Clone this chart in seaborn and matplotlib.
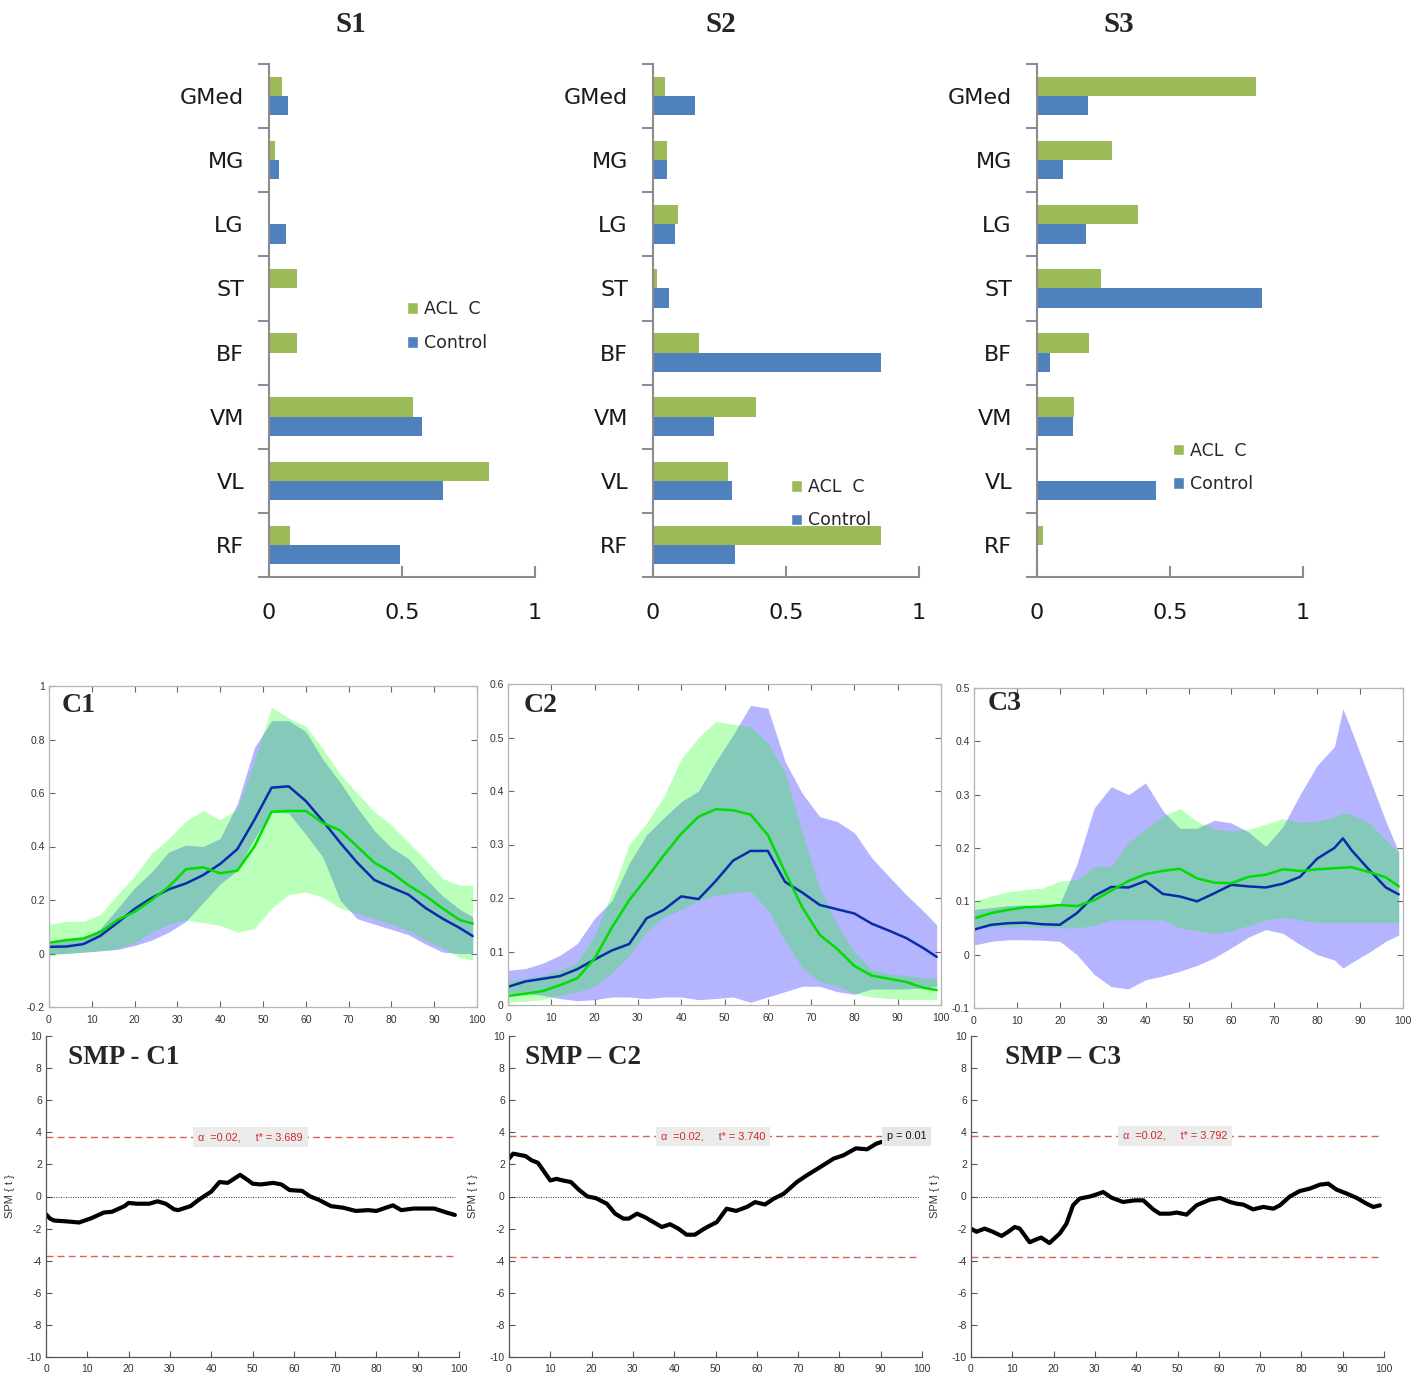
import matplotlib
matplotlib.use("Agg")
import matplotlib.pyplot as plt
from matplotlib.patches import Patch
import numpy as np
import pandas as pd
import seaborn as sns

# ---------------- data ----------------
muscles = ['GMed', 'MG', 'LG', 'ST', 'BF', 'VM', 'VL', 'RF']
groups = ['ACL  C', 'Control']

s1_acl = [0.047, 0.023, 0.0, 0.104, 0.104, 0.543, 0.826, 0.079]
s1_ctrl = [0.070, 0.039, 0.065, 0.0, 0.0, 0.575, 0.653, 0.493]
s2_acl = [0.044, 0.052, 0.094, 0.014, 0.172, 0.387, 0.283, 0.859]
s2_ctrl = [0.157, 0.052, 0.082, 0.060, 0.859, 0.230, 0.296, 0.307]
s3_acl = [0.822, 0.283, 0.378, 0.242, 0.196, 0.139, 0.005, 0.023]
s3_ctrl = [0.191, 0.097, 0.184, 0.844, 0.047, 0.136, 0.448, 0.0]

# gait-cycle nodes (%)
t = [0, 4, 8, 12, 16, 20, 24, 28, 32, 36, 40, 44, 48, 52, 56, 60, 64, 68, 72, 76, 80, 84, 88, 92, 96, 99]
t3 = [0, 4, 8, 12, 16, 20, 24, 28, 32, 36, 40, 44, 48, 52, 56, 60, 64, 68, 72, 76, 80, 84, 86, 88, 92, 96, 99]

c1_blue_mean = [0.025, 0.026, 0.035, 0.066, 0.115, 0.167, 0.208, 0.24, 0.262, 0.293, 0.335, 0.39, 0.5, 0.62, 0.625, 0.57, 0.495, 0.415, 0.34, 0.275, 0.247, 0.22, 0.17, 0.13, 0.095, 0.065]
c1_blue_hi = [0.044, 0.05, 0.058, 0.093, 0.168, 0.245, 0.305, 0.38, 0.405, 0.40, 0.43, 0.56, 0.77, 0.87, 0.87, 0.83, 0.725, 0.64, 0.545, 0.46, 0.395, 0.355, 0.28, 0.215, 0.165, 0.137]
c1_blue_lo = [0.0, 0.0, 0.005, 0.01, 0.015, 0.03, 0.05, 0.08, 0.12, 0.19, 0.26, 0.31, 0.43, 0.53, 0.525, 0.445, 0.36, 0.2, 0.13, 0.11, 0.09, 0.07, 0.035, 0.005, 0.0, 0.0]
c1_green_mean = [0.04, 0.05, 0.056, 0.08, 0.125, 0.156, 0.2, 0.25, 0.315, 0.322, 0.3, 0.31, 0.4, 0.53, 0.533, 0.533, 0.488, 0.46, 0.4, 0.34, 0.303, 0.255, 0.215, 0.168, 0.125, 0.112]
c1_green_hi = [0.11, 0.12, 0.12, 0.145, 0.22, 0.29, 0.375, 0.43, 0.495, 0.535, 0.5, 0.54, 0.72, 0.92, 0.88, 0.85, 0.765, 0.67, 0.6, 0.53, 0.48, 0.415, 0.35, 0.28, 0.255, 0.255]
c1_green_lo = [-0.01, 0.0, 0.005, 0.01, 0.02, 0.04, 0.08, 0.11, 0.125, 0.115, 0.105, 0.08, 0.093, 0.17, 0.22, 0.23, 0.21, 0.17, 0.15, 0.13, 0.11, 0.085, 0.05, 0.02, -0.015, -0.025]

c2_blue_mean = [0.034, 0.044, 0.049, 0.054, 0.067, 0.085, 0.102, 0.114, 0.162, 0.178, 0.203, 0.198, 0.232, 0.27, 0.288, 0.288, 0.23, 0.21, 0.187, 0.179, 0.171, 0.152, 0.139, 0.125, 0.106, 0.09]
c2_blue_hi = [0.065, 0.068, 0.078, 0.093, 0.115, 0.162, 0.195, 0.265, 0.318, 0.35, 0.38, 0.4, 0.455, 0.505, 0.56, 0.555, 0.455, 0.395, 0.352, 0.343, 0.322, 0.275, 0.24, 0.206, 0.175, 0.15]
c2_blue_lo = [0.022, 0.022, 0.018, 0.012, 0.008, 0.01, 0.015, 0.015, 0.012, 0.015, 0.015, 0.01, 0.012, 0.015, 0.005, 0.015, 0.025, 0.035, 0.035, 0.025, 0.02, 0.03, 0.03, 0.03, 0.032, 0.035]
c2_green_mean = [0.017, 0.021, 0.026, 0.037, 0.05, 0.087, 0.145, 0.196, 0.237, 0.28, 0.32, 0.352, 0.366, 0.364, 0.356, 0.318, 0.248, 0.182, 0.131, 0.105, 0.073, 0.055, 0.049, 0.043, 0.032, 0.028]
c2_green_hi = [0.045, 0.05, 0.055, 0.065, 0.08, 0.13, 0.21, 0.3, 0.34, 0.39, 0.46, 0.5, 0.53, 0.525, 0.52, 0.49, 0.435, 0.32, 0.218, 0.15, 0.1, 0.066, 0.058, 0.055, 0.05, 0.05]
c2_green_lo = [0.005, 0.007, 0.01, 0.018, 0.025, 0.035, 0.06, 0.093, 0.137, 0.165, 0.178, 0.195, 0.205, 0.21, 0.213, 0.178, 0.12, 0.07, 0.044, 0.036, 0.022, 0.015, 0.012, 0.01, 0.01, 0.01]

c3_blue_mean = [0.047, 0.056, 0.059, 0.06, 0.057, 0.056, 0.078, 0.11, 0.127, 0.126, 0.138, 0.114, 0.109, 0.1, 0.115, 0.131, 0.128, 0.126, 0.133, 0.146, 0.18, 0.2, 0.218, 0.196, 0.16, 0.126, 0.113]
c3_blue_hi = [0.085, 0.088, 0.092, 0.093, 0.09, 0.095, 0.17, 0.275, 0.315, 0.3, 0.322, 0.27, 0.237, 0.237, 0.252, 0.247, 0.23, 0.203, 0.24, 0.3, 0.355, 0.39, 0.461, 0.42, 0.335, 0.25, 0.193]
c3_blue_lo = [0.018, 0.025, 0.028, 0.028, 0.027, 0.025, 0.0, -0.037, -0.06, -0.064, -0.047, -0.04, -0.031, -0.02, -0.006, 0.013, 0.033, 0.047, 0.04, 0.019, 0.0, -0.01, -0.025, -0.015, 0.004, 0.025, 0.037]
c3_green_mean = [0.068, 0.078, 0.084, 0.089, 0.09, 0.093, 0.091, 0.102, 0.12, 0.138, 0.151, 0.157, 0.161, 0.143, 0.135, 0.134, 0.146, 0.15, 0.16, 0.157, 0.16, 0.162, 0.163, 0.164, 0.155, 0.145, 0.128]
c3_green_hi = [0.1, 0.11, 0.118, 0.122, 0.125, 0.138, 0.14, 0.165, 0.165, 0.21, 0.235, 0.26, 0.274, 0.25, 0.235, 0.232, 0.235, 0.245, 0.255, 0.248, 0.25, 0.258, 0.266, 0.262, 0.248, 0.215, 0.192]
c3_green_lo = [0.05, 0.052, 0.052, 0.052, 0.052, 0.05, 0.05, 0.055, 0.065, 0.065, 0.065, 0.065, 0.05, 0.045, 0.04, 0.045, 0.055, 0.065, 0.07, 0.065, 0.06, 0.06, 0.06, 0.06, 0.06, 0.06, 0.06]

smp1_x = [0, 1, 2, 5, 8, 11, 14, 16, 19, 20, 22, 25, 27, 29, 31, 32, 35, 37, 40, 42, 44, 47, 49, 50, 52, 55, 57, 59, 62, 64, 66, 69, 72, 75, 78, 80, 84, 86, 89, 92, 94, 97, 99]
smp1_y = [-1.1, -1.38, -1.5, -1.55, -1.62, -1.35, -1.0, -0.95, -0.6, -0.4, -0.45, -0.45, -0.3, -0.45, -0.8, -0.85, -0.6, -0.2, 0.3, 0.9, 0.85, 1.35, 1.0, 0.8, 0.75, 0.85, 0.75, 0.4, 0.35, 0.0, -0.2, -0.6, -0.7, -0.9, -0.85, -0.9, -0.55, -0.85, -0.75, -0.75, -0.75, -1.0, -1.15]
smp2_x = [0, 1, 4, 5.5, 7, 10, 11.5, 13, 15, 17, 19, 21, 23.7, 25.7, 27.7, 29, 31, 33, 35, 37, 39, 41, 43, 45, 47, 48.3, 50.3, 52.7, 55, 57.6, 59.6, 62, 64, 66.5, 69.7, 72, 75.4, 78.6, 81, 84, 86.7, 89, 91.5]
smp2_y = [2.36, 2.67, 2.52, 2.25, 2.1, 1.0, 1.1, 1.0, 0.9, 0.4, 0.0, -0.1, -0.45, -1.07, -1.38, -1.38, -1.07, -1.3, -1.6, -1.9, -1.73, -2.0, -2.38, -2.38, -2.05, -1.86, -1.6, -0.76, -0.9, -0.65, -0.35, -0.5, -0.15, 0.17, 0.9, 1.3, 1.84, 2.36, 2.57, 3.0, 2.94, 3.3, 3.5]
smp3_x = [0, 1.3, 3.3, 5.3, 7.4, 9, 10.6, 11.8, 14.2, 16.2, 17, 19, 21.5, 23.1, 24.7, 26.3, 28.8, 30.4, 32, 34, 36.8, 39.7, 41.7, 44.1, 45.7, 48.1, 49.8, 52.2, 54.6, 57.8, 60.3, 62.7, 64.3, 65.9, 68.3, 70.8, 73.2, 74.8, 77.2, 79.6, 82, 84.5, 86.5, 88.5, 91, 93.4, 95.8, 97.4, 99]
smp3_y = [-2.0, -2.2, -2.0, -2.2, -2.46, -2.2, -1.9, -2.0, -2.85, -2.63, -2.56, -2.9, -2.3, -1.7, -0.55, -0.13, 0.0, 0.13, 0.28, -0.07, -0.34, -0.24, -0.24, -0.8, -1.07, -1.07, -1.0, -1.13, -0.55, -0.2, -0.09, -0.34, -0.45, -0.5, -0.8, -0.65, -0.76, -0.55, 0.0, 0.34, 0.49, 0.74, 0.8, 0.43, 0.18, -0.09, -0.45, -0.65, -0.55]

thresholds = [3.689, 3.740, 3.792]
alpha_level = 0.02
p_value_c2 = 0.01

# ---------------- style ----------------
sns.set_style("white")
plt.rcParams['font.family'] = ['DejaVu Sans']
plt.rcParams['axes.unicode_minus'] = False
plt.rcParams['lines.solid_joinstyle'] = 'round'

W, H = 1426, 1376
fig = plt.figure(figsize=(W / 100, H / 100), dpi=100)


def rect(l, r, top, b):
    return [l / W, 1 - b / H, (r - l) / W, (b - top) / H]


GREEN_BAR, BLUE_BAR = '#9BBB59', '#4F81BD'
AXGRAY = '#8c8c8c'
SERIF = 'Liberation Serif'
MAT = 'Liberation Sans'

# ---------------- bar charts (top row) ----------------
bar_specs = [
    ('S1', s1_acl, s1_ctrl, (269, 535), 351, (0.519, 0.489)),
    ('S2', s2_acl, s2_ctrl, (653, 919), 721, (0.519, 0.143)),
    ('S3', s3_acl, s3_ctrl, (1037, 1303), 1119, (0.511, 0.2135)),
]
for title, acl, ctrl, (l, r), tx, leg in bar_specs:
    ax = fig.add_axes(rect(l, r, 64, 577))
    df = pd.DataFrame({
        'muscle': muscles * 2,
        'group': [groups[0]] * len(muscles) + [groups[1]] * len(muscles),
        'value': list(acl) + list(ctrl),
    })
    sns.barplot(data=df, x='value', y='muscle', hue='group', order=muscles,
                hue_order=groups, palette=[GREEN_BAR, BLUE_BAR], orient='h',
                width=0.6, saturation=1, errorbar=None, legend=False,
                linewidth=0, ax=ax)
    ax.set_xlim(0, 1)
    ax.set_ylim(len(muscles) - 0.5, -0.5)
    ax.set_xlabel('')
    ax.set_ylabel('')
    ax.set_yticks(range(len(muscles)))
    ax.set_yticklabels(muscles)
    ax.set_yticks(np.arange(-0.5, len(muscles)), minor=True)
    ax.tick_params(axis='y', which='major', length=0, pad=18, labelsize=16,
                   labelcolor='#1a1a1a', left=True)
    ax.tick_params(axis='y', which='minor', length=8, width=1.5, color=AXGRAY,
                   direction='out', left=True)
    ax.set_xticks([0, 0.5, 1])
    ax.set_xticklabels(['0', '0.5', '1'])
    ax.tick_params(axis='x', which='major', direction='in', length=8, width=1.5,
                   color=AXGRAY, pad=19, labelsize=16, labelcolor='#1a1a1a',
                   bottom=True)
    for s in ['top', 'right']:
        ax.spines[s].set_visible(False)
    for s in ['left', 'bottom']:
        ax.spines[s].set_color(AXGRAY)
        ax.spines[s].set_linewidth(1.5)
    handles = [Patch(facecolor=GREEN_BAR, label=groups[0]),
               Patch(facecolor=BLUE_BAR, label=groups[1])]
    ax.legend(handles=handles, loc='center left', bbox_to_anchor=leg,
              frameon=False, fontsize=12.5, handlelength=0.65, handleheight=0.65,
              handletextpad=0.35, labelspacing=0.9, borderpad=0, borderaxespad=0)
    fig.text(tx / W, 1 - 25 / H, title, ha='center', va='center', fontsize=21,
             fontweight='bold', family=SERIF)

# ---------------- EMG envelopes (middle row) ----------------
BLUE_LINE, GREEN_LINE = '#0a2ca8', '#00dd00'
c_specs = [
    ((49, 477, 686, 1007), t, c1_blue_mean, c1_blue_lo, c1_blue_hi,
     c1_green_mean, c1_green_lo, c1_green_hi, (-0.2, 1.0), 0.2, 'C1', (62, 706)),
    ((508, 941, 684, 1005), t, c2_blue_mean, c2_blue_lo, c2_blue_hi,
     c2_green_mean, c2_green_lo, c2_green_hi, (0.0, 0.6), 0.1, 'C2', (524, 706)),
    ((974, 1403, 688, 1008), t3, c3_blue_mean, c3_blue_lo, c3_blue_hi,
     c3_green_mean, c3_green_lo, c3_green_hi, (-0.1, 0.5), 0.1, 'C3', (988, 703)),
]
for (l, r, tp, b), xs, bm, blo, bhi, gm, glo, ghi, ylim, ystep, lab, lpos in c_specs:
    ax = fig.add_axes(rect(l, r, tp, b))
    ax.fill_between(xs, blo, bhi, color='#0000ff', alpha=0.29, lw=0)
    ax.fill_between(xs, glo, ghi, color='#00ff00', alpha=0.27, lw=0)
    sns.lineplot(x=xs, y=bm, color=BLUE_LINE, lw=1.8, estimator=None, ax=ax)
    sns.lineplot(x=xs, y=gm, color=GREEN_LINE, lw=1.8, estimator=None, ax=ax)
    ax.set_xlim(0, 100)
    ax.set_ylim(*ylim)
    yt = np.round(np.arange(ylim[0], ylim[1] + 1e-9, ystep), 1)
    ax.set_yticks(yt)
    ax.set_yticklabels([f'{v:g}' for v in yt])
    ax.set_xticks(range(0, 101, 10))
    ax.tick_params(direction='in', length=4, width=0.8, color='#666666',
                   top=True, right=True, bottom=True, left=True,
                   labelsize=7.5, pad=3, labelcolor='#333333')
    ax.tick_params(axis='x', pad=6)
    for lbl in ax.get_xticklabels() + ax.get_yticklabels():
        lbl.set_family(MAT)
    for s in ax.spines.values():
        s.set_color('#b5b5b5')
        s.set_linewidth(0.9)
    ax.set_xlabel('')
    ax.set_ylabel('')
    fig.text(lpos[0] / W, 1 - lpos[1] / H, lab, ha='left', va='center',
             fontsize=20, fontweight='bold', family=SERIF)

# ---------------- SPM t-tests (bottom row) ----------------
smp_specs = [
    ((46, 459), smp1_x, smp1_y, thresholds[0], 'SMP - C1', (68, 1057), False),
    ((509, 922), smp2_x, smp2_y, thresholds[1], 'SMP \u2013 C2', (525, 1057), True),
    ((971, 1384), smp3_x, smp3_y, thresholds[2], 'SMP \u2013 C3', (1005, 1057), False),
]
for (l, r), sx, sy, thr, lab, lpos, show_p in smp_specs:
    ax = fig.add_axes(rect(l, r, 1036, 1357))
    x0, x1 = t[0], t[-1]
    ax.hlines([thr, -thr], x0, x1, colors='#d9605a', linestyles=(0, (5, 3)), lw=1.0)
    ax.hlines(0, x0, x1, colors='#333333', linestyles=(0, (1, 1.5)), lw=0.7)
    sns.lineplot(x=sx, y=sy, color='black', lw=3.0, estimator=None, sort=False, ax=ax)
    ax.text((x0 + x1) / 2, thr, f'\u03b1  ={alpha_level:.2f},     t* = {thr:.3f}',
            ha='center', va='center', fontsize=7.8, color='#d02828', family=MAT,
            bbox=dict(facecolor='#ebebeb', edgecolor='none', pad=3.5))
    if show_p:
        ax.text(sx[-1], thr, f'p = {p_value_c2:.2f}', ha='left', va='center',
                fontsize=7.8, color='#111111', family=MAT,
                bbox=dict(facecolor='#e6e6e6', edgecolor='none', pad=3.5))
    ax.set_xlim(0, 100)
    ax.set_ylim(-10, 10)
    ax.set_yticks(range(-10, 11, 2))
    ax.set_xticks(range(0, 101, 10))
    ax.tick_params(direction='in', length=4, width=0.8, color='#555555',
                   bottom=True, left=True, labelsize=7.5, pad=3, labelcolor='#333333')
    ax.tick_params(axis='x', pad=5)
    for lbl in ax.get_xticklabels() + ax.get_yticklabels():
        lbl.set_family(MAT)
    for s in ['top', 'right']:
        ax.spines[s].set_visible(False)
    for s in ['left', 'bottom']:
        ax.spines[s].set_color('#555555')
        ax.spines[s].set_linewidth(0.9)
    ax.set_xlabel('')
    ax.set_ylabel('SPM { t }', fontsize=8, color='#333333', family=MAT)
    ax.yaxis.set_label_coords(-31 / (r - l), 0.5)
    fig.text(lpos[0] / W, 1 - lpos[1] / H, lab, ha='left', va='center',
             fontsize=19.5, fontweight='bold', family=SERIF)

fig.savefig('out.png', dpi=100, facecolor='white')
